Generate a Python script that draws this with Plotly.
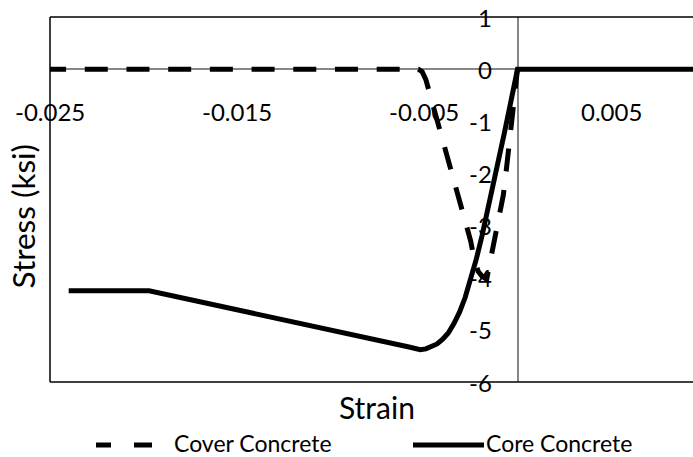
import plotly.graph_objects as go

# ---------------- data ----------------
core_strain = [-0.0240, -0.0197, -0.0058, -0.0052, -0.0049, -0.0046, -0.0043, -0.0040,
               -0.0037, -0.0034, -0.0031, -0.0028, -0.0025, -0.0022, -0.0019, -0.0016,
               -0.0013, -0.0010, -0.0007, -0.0004, -0.0001, 0.0, 0.0100]
core_stress = [-4.25, -4.25, -5.33, -5.38, -5.365, -5.33, -5.27, -5.18,
               -5.06, -4.88, -4.66, -4.38, -4.04, -3.64, -3.20, -2.73,
               -2.24, -1.73, -1.22, -0.70, -0.17, 0.0, 0.0]

cover_strain = [-0.02537, -0.0053, -0.0051, -0.0049, -0.0045, -0.0041, -0.0037, -0.0033,
                -0.0029, -0.0025, -0.0023, -0.0021, -0.0019, -0.00165, -0.00138,
                -0.0012, -0.00094, -0.00076, -0.00061, -0.00049, -0.00035, -0.00022, 0.0]
cover_stress = [0.0, 0.0, -0.05, -0.20, -0.72, -1.25, -1.78, -2.30,
                -2.82, -3.30, -3.68, -3.88, -3.97, -4.03, -3.54,
                -3.22, -2.77, -2.42, -1.97, -1.62, -1.21, -0.82, 0.0]

x_tick_vals = [-0.025, -0.015, -0.005, 0.005]
x_tick_text = ["-0.025", "-0.015", "-0.005", "0.005"]
y_tick_vals = [1, 0, -1, -2, -3, -4, -5, -6]
y_tick_text = ["1", "0", "-1", "-2", "-3", "-4", "-5", "-6"]

series_names = ["Cover Concrete", "Core Concrete"]
x_title = "Strain"
y_title = "Stress (ksi)"

# ---------------- layout geometry ----------------
W, H = 693, 457
ML, MR, MT, MB = 50, 0, 17, 75
PW, PH = W - ML - MR, H - MT - MB
X_RANGE = [-0.025, -0.025 + PW / 18700.0]
Y_RANGE = [-6, 1]

FONT = "Lato, 'Open Sans', sans-serif"


def px_x(px):
    return (px - ML) / PW


def px_y(py):
    return (MT + PH - py) / PH


fig = go.Figure()
fig.add_trace(go.Scatter(x=cover_strain, y=cover_stress, mode="lines", name=series_names[0],
                         line=dict(color="black", width=5, dash="23px,18.7px"),
                         showlegend=False))
fig.add_trace(go.Scatter(x=core_strain, y=core_stress, mode="lines", name=series_names[1],
                         line=dict(color="black", width=5),
                         showlegend=False))

annotations = []
for v, t in zip(x_tick_vals, x_tick_text):
    annotations.append(dict(x=v, y=0, xref="x", yref="y", text=t, showarrow=False,
                            xanchor="center", yanchor="middle", yshift=-42.5,
                            font=dict(family=FONT, size=24, color="black")))
for v, t in zip(y_tick_vals, y_tick_text):
    annotations.append(dict(x=0, y=v, xref="x", yref="y", text=t, showarrow=False,
                            xanchor="right", yanchor="middle", xshift=-24,
                            font=dict(family=FONT, size=24, color="black")))
annotations.append(dict(x=px_x(376.5), y=px_y(407), xref="paper", yref="paper", text=x_title,
                        showarrow=False, xanchor="center", yanchor="middle",
                        font=dict(family=FONT, size=30, color="black")))
annotations.append(dict(x=px_x(23), y=px_y(216.5), xref="paper", yref="paper", text=y_title,
                        showarrow=False, xanchor="center", yanchor="middle", textangle=-90,
                        font=dict(family=FONT, size=31.5, color="black")))
# legend texts
annotations.append(dict(x=px_x(172), y=px_y(443), xref="paper", yref="paper", text=series_names[0],
                        showarrow=False, xanchor="left", yanchor="middle",
                        font=dict(family=FONT, size=23, color="black")))
annotations.append(dict(x=px_x(484), y=px_y(443), xref="paper", yref="paper", text=series_names[1],
                        showarrow=False, xanchor="left", yanchor="middle",
                        font=dict(family=FONT, size=23, color="black")))

shapes = [
    # plot-area border (left, top, bottom)
    dict(type="line", xref="paper", yref="paper", x0=0, x1=0, y0=0, y1=1,
         line=dict(color="black", width=1.5)),
    dict(type="line", xref="paper", yref="paper", x0=0, x1=1, y0=1, y1=1,
         line=dict(color="black", width=1.5)),
    dict(type="line", xref="paper", yref="paper", x0=0, x1=1, y0=0, y1=0,
         line=dict(color="black", width=1.5)),
    # legend symbols
    dict(type="line", xref="paper", yref="paper", x0=px_x(96), x1=px_x(111),
         y0=px_y(445), y1=px_y(445), line=dict(color="black", width=5)),
    dict(type="line", xref="paper", yref="paper", x0=px_x(134), x1=px_x(152),
         y0=px_y(445), y1=px_y(445), line=dict(color="black", width=5)),
    dict(type="line", xref="paper", yref="paper", x0=px_x(413), x1=px_x(484),
         y0=px_y(445), y1=px_y(445), line=dict(color="black", width=5)),
]

fig.update_layout(
    width=W, height=H,
    margin=dict(l=ML, r=MR, t=MT, b=MB, pad=0),
    paper_bgcolor="white", plot_bgcolor="white",
    showlegend=False,
    annotations=annotations,
    shapes=shapes,
    xaxis=dict(range=X_RANGE, showgrid=False, showticklabels=False, ticks="",
               zeroline=True, zerolinecolor="#868686", zerolinewidth=1.5, showline=False,
               fixedrange=True),
    yaxis=dict(range=Y_RANGE, showgrid=False, showticklabels=False, ticks="",
               zeroline=True, zerolinecolor="#868686", zerolinewidth=1.5, showline=False,
               fixedrange=True),
)

fig.write_html("out.html", config={"displayModeBar": False})
